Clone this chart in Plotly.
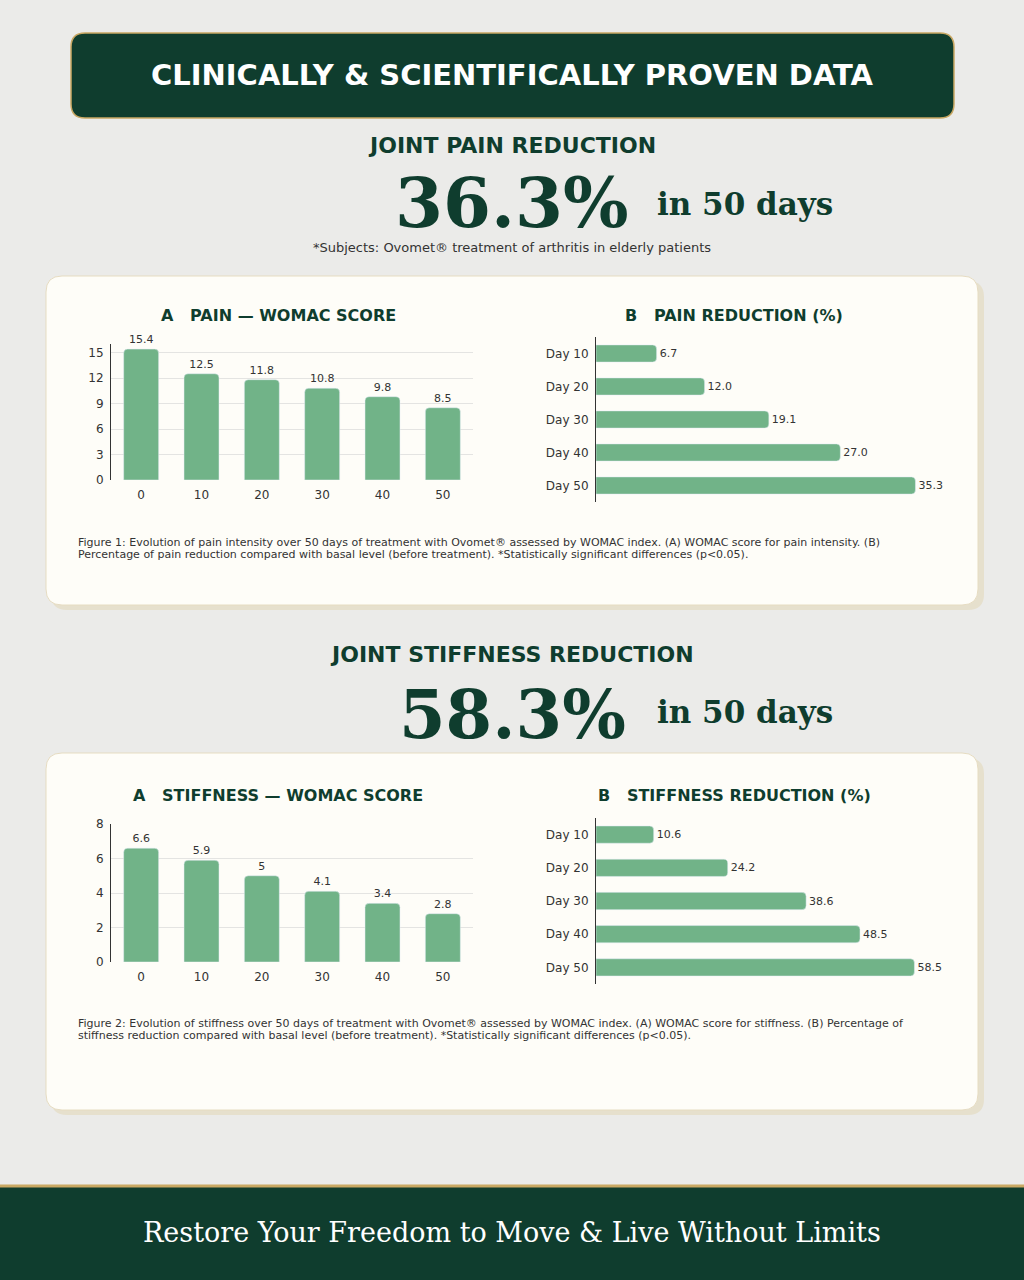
import plotly.graph_objects as go

# chart data
days = ["0", "10", "20", "30", "40", "50"]
pain_womac = [15.4, 12.5, 11.8, 10.8, 9.8, 8.5]
stiff_womac = [6.6, 5.9, 5, 4.1, 3.4, 2.8]
reduction_days = ["Day 10", "Day 20", "Day 30", "Day 40", "Day 50"]
pain_reduction = [6.7, 12.0, 19.1, 27.0, 35.3]
stiff_reduction = [10.6, 24.2, 38.6, 48.5, 58.5]

W, H = 1024, 1280
GREEN = "#0f3d2e"
GOLD = "#c9a863"
BAR = "#71b388"
INK = "#333333"
SANS = "DejaVu Sans"
SERIF = "DejaVu Serif"


def px(x):
    return x / W


def py(y):
    return 1 - y / H


def rrect(x0, y0, x1, y1, r):
    pts = [("M", x0 + r, y0), ("L", x1 - r, y0), ("Q", x1, y0, x1, y0 + r),
           ("L", x1, y1 - r), ("Q", x1, y1, x1 - r, y1), ("L", x0 + r, y1),
           ("Q", x0, y1, x0, y1 - r), ("L", x0, y0 + r), ("Q", x0, y0, x0 + r, y0)]
    path = ""
    for p in pts:
        cmd, vals = p[0], p[1:]
        coords = []
        for i in range(0, len(vals), 2):
            coords.append("%.5f,%.5f" % (px(vals[i]), py(vals[i + 1])))
        path += cmd + " ".join(coords) + " "
    return path + "Z"


def text(x, y, s, size, color=INK, family=SANS, xanchor="center", yanchor="middle"):
    return dict(x=px(x), y=py(y), xref="paper", yref="paper", text=s, showarrow=False,
                xanchor=xanchor, yanchor=yanchor,
                font=dict(family=family, size=size, color=color))


fig = go.Figure()

fig.add_trace(go.Bar(x=days, y=pain_womac, text=[str(v) for v in pain_womac],
                     textposition="outside", marker=dict(color=BAR, cornerradius=4),
                     textfont=dict(size=11, color=INK), cliponaxis=False,
                     xaxis="x", yaxis="y"))
fig.add_trace(go.Bar(x=pain_reduction, y=reduction_days, orientation="h",
                     text=["%.1f" % v for v in pain_reduction], textposition="outside",
                     marker=dict(color=BAR, cornerradius=4),
                     textfont=dict(size=11, color=INK), cliponaxis=False,
                     xaxis="x2", yaxis="y2"))
fig.add_trace(go.Bar(x=days, y=stiff_womac, text=[str(v) for v in stiff_womac],
                     textposition="outside", marker=dict(color=BAR, cornerradius=4),
                     textfont=dict(size=11, color=INK), cliponaxis=False,
                     xaxis="x3", yaxis="y3"))
fig.add_trace(go.Bar(x=stiff_reduction, y=reduction_days, orientation="h",
                     text=["%.1f" % v for v in stiff_reduction], textposition="outside",
                     marker=dict(color=BAR, cornerradius=4),
                     textfont=dict(size=11, color=INK), cliponaxis=False,
                     xaxis="x4", yaxis="y4"))

col_x = dict(type="category", showgrid=False, showline=False, zeroline=False, ticks="",
             ticklabelstandoff=6, tickfont=dict(size=12, color=INK))
col_y = dict(showgrid=True, gridcolor="#e4e4e2", showline=True, linecolor=INK, linewidth=1,
             zeroline=False, ticks="", ticklabelstandoff=4, tickfont=dict(size=12, color=INK))
bar_x = dict(showgrid=False, showline=False, zeroline=False, showticklabels=False)
bar_y = dict(type="category", autorange="reversed", showgrid=False, showline=True,
             linecolor=INK, linewidth=1, ticks="", ticklabelstandoff=4,
             tickfont=dict(size=12, color=INK))

shapes = [
    # header
    dict(type="path", path=rrect(71, 33, 954, 118, 14), xref="paper", yref="paper",
         fillcolor=GREEN, line=dict(color=GOLD, width=1.5), layer="below"),
    # card shadows + cards
    dict(type="path", path=rrect(51, 281, 984, 610, 16), xref="paper", yref="paper",
         fillcolor="#e6e0cd", line=dict(width=0), layer="below"),
    dict(type="path", path=rrect(46, 276, 978, 605, 16), xref="paper", yref="paper",
         fillcolor="#fefdf8", line=dict(color="#e6dcc2", width=1), layer="below"),
    dict(type="path", path=rrect(51, 758, 984, 1115, 16), xref="paper", yref="paper",
         fillcolor="#e6e0cd", line=dict(width=0), layer="below"),
    dict(type="path", path=rrect(46, 753, 978, 1110, 16), xref="paper", yref="paper",
         fillcolor="#fefdf8", line=dict(color="#e6dcc2", width=1), layer="below"),
    # footer
    dict(type="rect", x0=0, x1=1, y0=0, y1=py(1185), xref="paper", yref="paper",
         fillcolor=GREEN, line=dict(width=0), layer="below"),
    dict(type="line", x0=0, x1=1, y0=py(1186), y1=py(1186), xref="paper", yref="paper",
         line=dict(color=GOLD, width=3), layer="below"),
]

annotations = [
    text(512, 75, "<b>CLINICALLY &amp; SCIENTIFICALLY PROVEN DATA</b>", 29, "white"),
    text(512, 145, "<b>JOINT PAIN REDUCTION</b>", 22, GREEN),
    text(631, 203, "<b>36.3%</b>", 69, GREEN, SERIF, xanchor="right"),
    text(655, 204, "<b>in 50 days</b>", 31, GREEN, SERIF, xanchor="left"),
    text(512, 247, "*Subjects: Ovomet® treatment of arthritis in elderly patients", 13),
    text(278, 315, "<b>A   PAIN — WOMAC SCORE</b>", 16, GREEN),
    text(734, 315, "<b>B   PAIN REDUCTION (%)</b>", 16, GREEN),
    text(76, 542, "Figure 1: Evolution of pain intensity over 50 days of treatment with Ovomet® "
         "assessed by WOMAC index. (A) WOMAC score for pain intensity. (B)", 11, xanchor="left"),
    text(76, 554, "Percentage of pain reduction compared with basal level (before treatment). "
         "*Statistically significant differences (p&lt;0.05).", 11, xanchor="left"),
    text(512, 654, "<b>JOINT STIFFNESS REDUCTION</b>", 22, GREEN),
    text(628, 714, "<b>58.3%</b>", 67, GREEN, SERIF, xanchor="right"),
    text(655, 712, "<b>in 50 days</b>", 31, GREEN, SERIF, xanchor="left"),
    text(278, 795, "<b>A   STIFFNESS — WOMAC SCORE</b>", 16, GREEN),
    text(734, 795, "<b>B   STIFFNESS REDUCTION (%)</b>", 16, GREEN),
    text(76, 1023, "Figure 2: Evolution of stiffness over 50 days of treatment with Ovomet® "
         "assessed by WOMAC index. (A) WOMAC score for stiffness. (B) Percentage of", 11, xanchor="left"),
    text(76, 1035, "stiffness reduction compared with basal level (before treatment). "
         "*Statistically significant differences (p&lt;0.05).", 11, xanchor="left"),
    text(512, 1232, "Restore Your Freedom to Move &amp; Live Without Limits", 27, "white", SERIF),
]

fig.update_layout(
    width=W, height=H, margin=dict(l=0, r=0, t=0, b=0, pad=0, autoexpand=False),
    paper_bgcolor="#ebebe9", plot_bgcolor="rgba(0,0,0,0)",
    font=dict(family=SANS, color=INK), showlegend=False,
    bargap=0.42,
    xaxis=dict(col_x, domain=[px(111), px(473)], anchor="y"),
    yaxis=dict(col_y, domain=[py(480), py(344)], range=[0, 16], dtick=3, anchor="x"),
    xaxis2=dict(bar_x, domain=[px(596), px(958)], range=[0, 40], anchor="y2"),
    yaxis2=dict(bar_y, domain=[py(502), py(337)], anchor="x2"),
    xaxis3=dict(col_x, domain=[px(111), px(473)], anchor="y3"),
    yaxis3=dict(col_y, domain=[py(962), py(824)], range=[0, 8], dtick=2, anchor="x3"),
    xaxis4=dict(bar_x, domain=[px(596), px(958)], range=[0, 66.5], anchor="y4"),
    yaxis4=dict(bar_y, domain=[py(984), py(818)], anchor="x4"),
    shapes=shapes, annotations=annotations,
)
fig.update_traces(selector=dict(orientation="h"), width=0.52)

fig.write_html("out.html", config={"displayModeBar": False},
               post_script="document.body.style.margin='0';")
